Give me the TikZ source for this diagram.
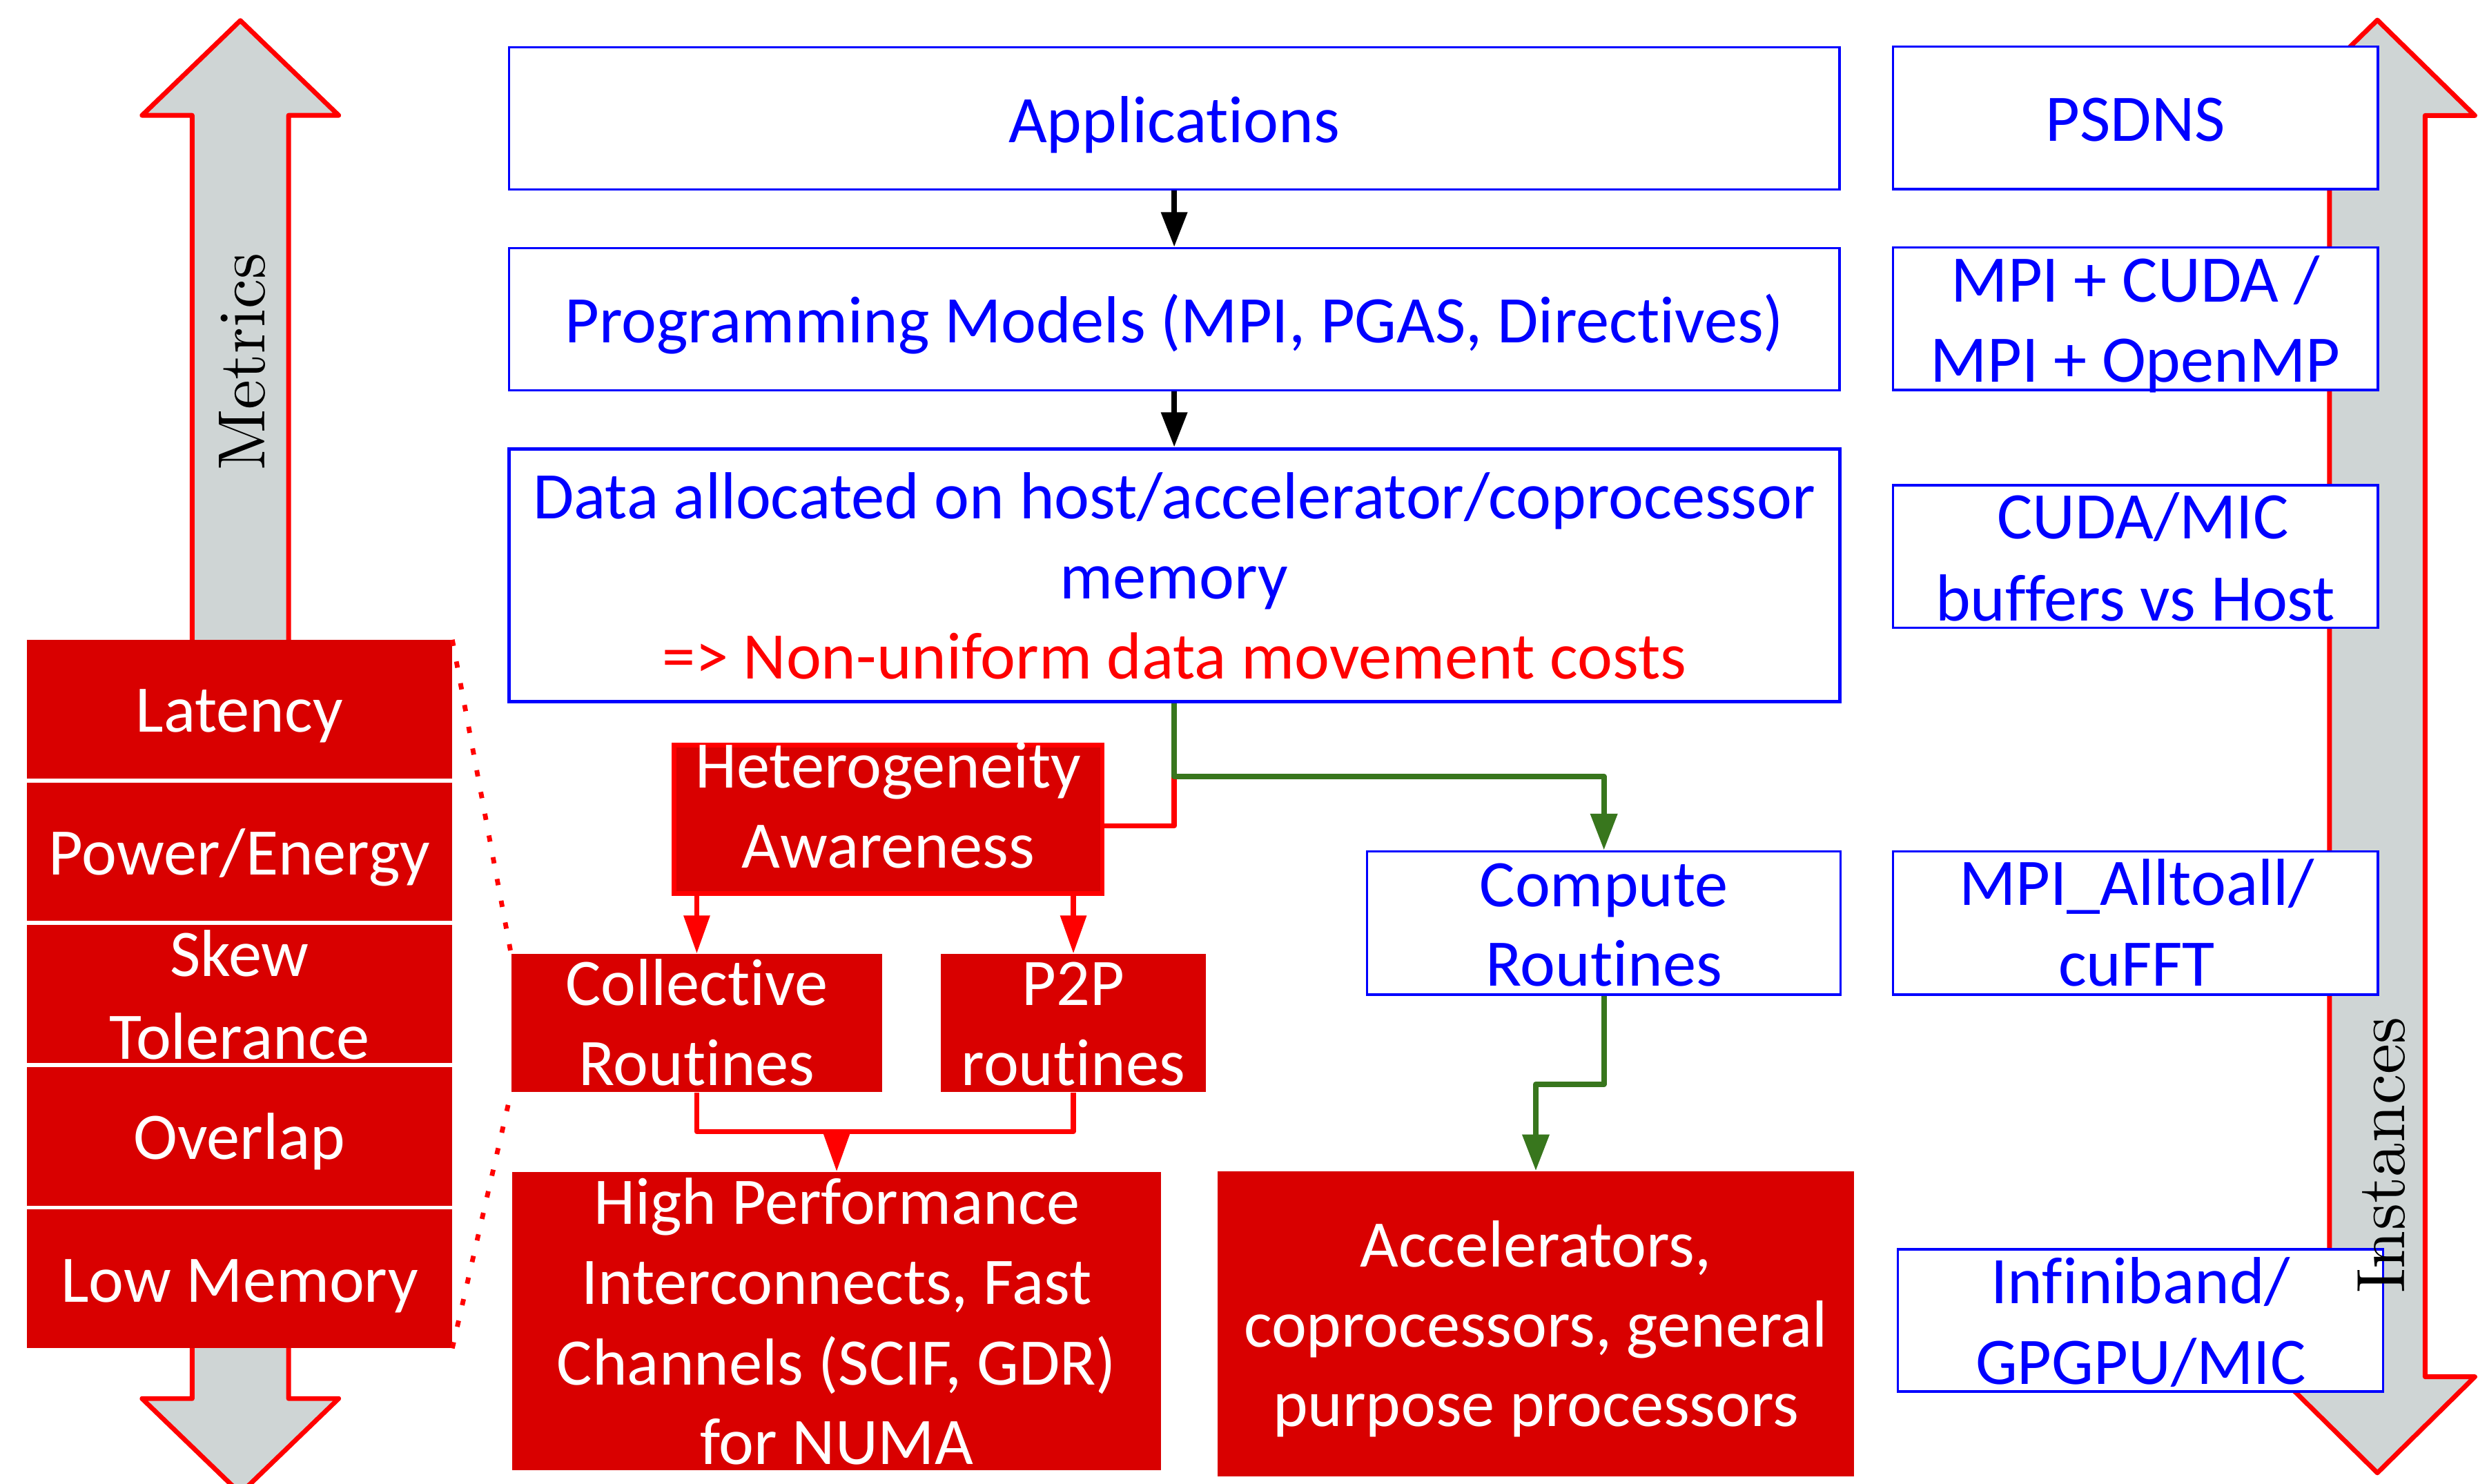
\documentclass[tikz,border=0pt]{standalone}
\usepackage{fontspec}
\newfontfamily\carl{Carlito}[Ligatures=NoCommon]
\newfontfamily\lmten{lmroman10-regular.otf}
\usetikzlibrary{arrows.meta,calc}
\definecolor{pblue}{RGB}{0,0,255}
\definecolor{pred}{RGB}{255,0,0}
\definecolor{dred}{RGB}{217,0,0}
\definecolor{pgreen}{RGB}{56,118,29}
\definecolor{pgray}{RGB}{207,213,213}
\begin{document}
\begin{tikzpicture}[x=1pt,y=-1pt,
  bluebox/.style={draw=pblue,line width=1.5pt,fill=white,inner sep=0pt},
  redbox/.style={fill=dred,inner sep=0pt},
  btxt/.style={font=\carl\fontsize{42.1}{50}\selectfont,text=pblue,inner sep=0pt,anchor=base},
  wtxt/.style={btxt,text=white},
  rtxt/.style={btxt,text=pred},
  serif/.style={font=\lmten\fontsize{42.2}{50}\selectfont,inner sep=0pt,anchor=base,rotate=90},
  blockarrow/.style={draw=pred,fill=pgray,line width=3pt,line join=round},
  blackconn/.style={line width=3.5pt,-{Triangle[length=22pt,width=16pt]}},
  redconn/.style={draw=pred,line width=3.2pt,line join=round},
  redtip/.style={redconn,-{Triangle[length=24pt,width=16pt]}},
  greenconn/.style={draw=pgreen,line width=3.5pt,line join=round,-{Triangle[length=23pt,width=16.5pt]}},
  dotline/.style={draw=pred,line width=3pt,dash pattern=on 4pt off 10pt}
]
% canvas
\fill[white] (0,0) rectangle (1568,939);
\useasboundingbox (0,0) rectangle (1568,939);

% double-headed block arrows
\draw[blockarrow] (152.1,13) -- (214.3,73) -- (182.6,73) -- (182.6,885) -- (214.3,885)
  -- (152.1,945) -- (89.9,885) -- (121.6,885) -- (121.6,73) -- (89.9,73) -- cycle;
\draw[blockarrow] (1504.3,12.7) -- (1566,73.1) -- (1534.5,73.1) -- (1534.5,871.2) -- (1566,871.2)
  -- (1504.3,932) -- (1442.6,871.2) -- (1474,871.2) -- (1474,73.1) -- (1442.6,73.1) -- cycle;
\node[serif] (metrics) at (167.5,229) {Metrics};

% metrics stack on a white backing
\fill[white] (17,405) rectangle (286,853);
\node[redbox,minimum width=269pt,minimum height=87.6pt] (m1) at (151.5,448.8) {};
\node[redbox,minimum width=269pt,minimum height=87.6pt] (m2) at (151.5,538.9) {};
\node[redbox,minimum width=269pt,minimum height=87.6pt] (m3) at (151.5,629.0) {};
\node[redbox,minimum width=269pt,minimum height=87.6pt] (m4) at (151.5,719.1) {};
\node[redbox,minimum width=269pt,minimum height=87.6pt] (m5) at (151.5,809.2) {};
\node[wtxt] (tlat) at (151.5,463) {Latency};
\node[wtxt] (tpow) at (151.5,553.5) {Power/Energy};
\node[wtxt] (tskew) at (151.5,618) {Skew};
\node[wtxt] (ttol) at (151.5,670) {Tolerance};
\node[wtxt] (tovl) at (151.5,733.4) {Overlap};
\node[wtxt] (tlow) at (151.5,824) {Low Memory};

% main column
\node[bluebox,minimum width=842pt,minimum height=90pt] (app) at (743,75) {};
\node[bluebox,minimum width=842pt,minimum height=90pt] (prog) at (743,202) {};
\node[bluebox,line width=2.2pt,minimum width=842pt,minimum height=160pt] (data) at (743,364) {};
\node[btxt] (tapp) at (743,90) {Applications};
\node[btxt] (tprog) at (743,217) {Programming Models (MPI, PGAS, Directives)};
\node[btxt] (tdata1) at (743,328.3) {Data allocated on host/accelerator/coprocessor};
\node[btxt] (tdata2) at (743,378.7) {memory};
\node[rtxt] (tdata3) at (743,429.4) {=> Non-uniform data movement costs};

\node[fill=dred,draw=pred,line width=3pt,inner sep=0pt,minimum width=271pt,minimum height=94pt] (het) at (562,518.5) {};
\node[wtxt] (thet1) at (562,498.6) {Heterogeneity};
\node[wtxt] (thet2) at (562,549.3) {Awareness};

\node[redbox,minimum width=234.7pt,minimum height=87.5pt] (coll) at (440.9,647.3) {};
\node[wtxt] (tcoll1) at (440.9,636) {Collective};
\node[wtxt] (tcoll2) at (440.9,687) {Routines};
\node[redbox,minimum width=167.6pt,minimum height=87.5pt] (p2p) at (679.2,647.3) {};
\node[wtxt] (tp2p1) at (679.2,636) {P2P};
\node[wtxt] (tp2p2) at (679.2,687) {routines};

\node[redbox,minimum width=410.7pt,minimum height=188.8pt] (hpc) at (529.4,835.9) {};
\node[wtxt] (thpc1) at (529.4,774.8) {High Performance};
\node[wtxt] (thpc2) at (529.4,825.2) {Interconnects, Fast};
\node[wtxt] (thpc3) at (529.4,876.2) {Channels (SCIF, GDR)};
\node[wtxt] (thpc4) at (529.4,926.7) {for NUMA};

\node[bluebox,minimum width=299.7pt,minimum height=90.7pt] (comp) at (1014.9,584) {};
\node[btxt] (tcomp1) at (1014.9,573.5) {Compute};
\node[btxt] (tcomp2) at (1014.9,624) {Routines};

\node[redbox,minimum width=402.5pt,minimum height=193.3pt] (acc) at (971.8,837.7) {};
\node[wtxt] (tacc1) at (971.8,801.5) {Accelerators,};
\node[wtxt] (tacc2) at (971.8,852.4) {coprocessors, general};
\node[wtxt] (tacc3) at (971.8,902.7) {purpose processors};

% instance column
\node[bluebox,minimum width=307pt,minimum height=90.2pt] (psd) at (1351.2,74.6) {};
\node[btxt] (tpsd) at (1351.2,89.5) {PSDNS};
\node[bluebox,minimum width=307pt,minimum height=90.2pt] (mpc) at (1351.2,201.7) {};
\node[btxt] (tmpc1) at (1351.2,190.9) {MPI + CUDA /};
\node[btxt] (tmpc2) at (1351.2,241.9) {MPI + OpenMP};
\node[bluebox,minimum width=307pt,minimum height=90.3pt] (cmic) at (1351.2,352.2) {};
\node[btxt] (tcmic1) at (1355.9,340.9) {CUDA/MIC};
\node[btxt] (tcmic2) at (1351.2,392.8) {buffers vs Host};
\node[bluebox,minimum width=307pt,minimum height=90.7pt] (a2a) at (1351.2,584) {};
\node[btxt] (ta2a1) at (1352,572.9) {MPI\_Alltoall/};
\node[btxt] (ta2a2) at (1352,623.8) {cuFFT};
\node[bluebox,minimum width=307pt,minimum height=90pt] (ib) at (1354.5,835.6) {};
\node[btxt] (tib1) at (1354.5,825) {Infiniband/};
\node[btxt] (tib2) at (1354.5,876) {GPGPU/MIC};
\node[serif,font=\lmten\fontsize{43.3}{50}\selectfont] (inst) at (1521.5,731) {Instances};

% connectors
\draw[blackconn] (app.south) -- (prog.north);
\draw[blackconn] (prog.south) -- (data.north);
\coordinate (jn) at (743,491.4);
\draw[redconn] ([yshift=-4pt]het.east) -| (jn);
\draw[greenconn] (data.south) -- (jn) -| (comp.north);
\draw[greenconn] (comp.south) -- ++(0,56) -| (acc.north);
\draw[redtip] (het.south -| coll.north) -- (coll.north);
\draw[redtip] (het.south -| p2p.north) -- (p2p.north);
\coordinate (cm) at (529.4,716);
\draw[redconn] (coll.south) |- (cm) -| (p2p.south);
\draw[redtip] (cm) -- (hpc.north);
\draw[dotline] (m1.north east) -- (coll.north west);
\draw[dotline] (m5.south east) -- (coll.south west);
\end{tikzpicture}
\end{document}
